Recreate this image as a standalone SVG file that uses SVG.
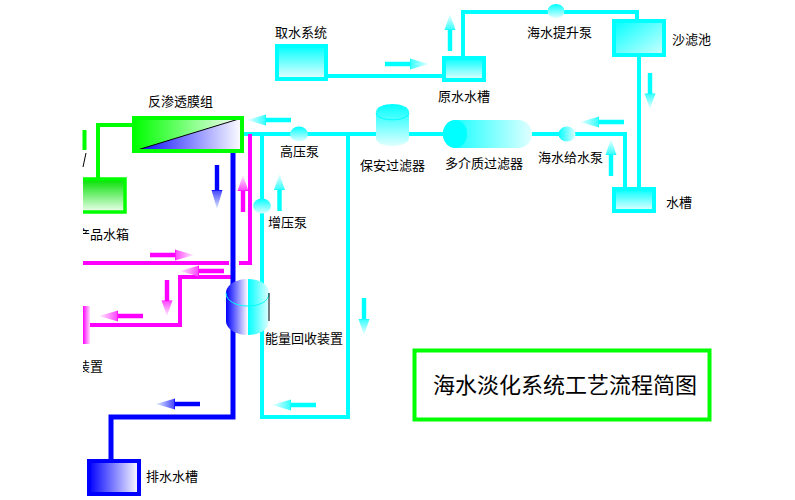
<svg xmlns="http://www.w3.org/2000/svg" width="795" height="500" viewBox="0 0 795 500">
<style>
text{font-family:"Noto Sans CJK SC","Liberation Sans",sans-serif;font-size:13px;fill:#000;font-weight:400}
.p{fill:none;stroke-width:4}
.pb{fill:none;stroke-width:5}
.c{stroke:#00ffff}.m{stroke:#ff00ff}.b{stroke:#0000ff}.g{stroke:#00ff00}
.s{stroke-width:4;fill:none}
.ac{fill:url(#aC)}.am{fill:url(#aM)}.ab{fill:url(#aB)}
</style>
<defs>
<linearGradient id="tk" x1="0" y1="0" x2="0" y2="1"><stop offset="0" stop-color="#00ffff"/><stop offset="1" stop-color="#e8ffff"/></linearGradient>
<linearGradient id="tk2" x1="0" y1="0" x2="1" y2="1"><stop offset="0" stop-color="#00ffff"/><stop offset="1" stop-color="#d0ffff"/></linearGradient>
<linearGradient id="gt" x1="0" y1="0" x2="0" y2="1"><stop offset="0" stop-color="#00e000"/><stop offset="1" stop-color="#f0fff0"/></linearGradient>
<linearGradient id="gm" x1="0" y1="0" x2="1" y2="0"><stop offset="0" stop-color="#00ff00"/><stop offset="1" stop-color="#ffffff"/></linearGradient>
<linearGradient id="bm" x1="0" y1="0" x2="1" y2="0"><stop offset="0" stop-color="#0000ff"/><stop offset="1" stop-color="#ffffff"/></linearGradient>
<linearGradient id="cy" x1="0" y1="0" x2="1" y2="0"><stop offset="0" stop-color="#00ffff"/><stop offset="1" stop-color="#e0ffff"/></linearGradient>
<linearGradient id="cyv" x1="0" y1="0" x2="0" y2="1"><stop offset="0" stop-color="#00ffff"/><stop offset="1" stop-color="#e0ffff"/></linearGradient>
<linearGradient id="mg" x1="0" y1="0" x2="1" y2="0"><stop offset="0" stop-color="#ff00ff"/><stop offset="1" stop-color="#ffe0ff"/></linearGradient>
<linearGradient id="aC" x1="0" y1="0" x2="1" y2="0"><stop offset=".57" stop-color="#00ffff"/><stop offset=".6" stop-color="#40ffff"/><stop offset="1" stop-color="#f0ffff"/></linearGradient>
<linearGradient id="aM" x1="0" y1="0" x2="1" y2="0"><stop offset=".57" stop-color="#ff00ff"/><stop offset=".6" stop-color="#ff50ff"/><stop offset="1" stop-color="#fff0ff"/></linearGradient>
<linearGradient id="aB" x1="0" y1="0" x2="1" y2="0"><stop offset=".57" stop-color="#0000ff"/><stop offset=".6" stop-color="#5050ff"/><stop offset="1" stop-color="#e0f0ff"/></linearGradient>
<clipPath id="left"><rect x="83" y="0" width="712" height="500"/></clipPath>
<path id="ar" d="M0,-2.200H25V-5.500L44,0L25,5.500V2.200H0Z"/>
</defs>
<rect width="795" height="500" fill="#fff"/>
<g id="connectors">
<path class="p c" d="M241,134H443M532,134H625V188M328,76H442M463,56V12H637V20M639,57V188M262,134V417H348V134"/>
<path class="p m" d="M83,263H229M239,263H250V134M234,277H180V325H88"/>
<path class="pb b" d="M233,151V417H111V460"/>
<path class="p g" d="M132,125H98V178M84.500,130V150"/>
<path d="M83,167L86,153" stroke="#000" fill="none"/>
<use href="#ar" class="ab" transform="translate(217,165) rotate(90)"/>
<use href="#ar" class="am" transform="translate(243,212) rotate(-90) scale(.84,1)"/>
<use href="#ar" class="ac" transform="translate(279.500,211) rotate(-90) scale(.84,1)"/>
<use href="#ar" class="ac" transform="translate(291,120) rotate(180)"/>
<use href="#ar" class="am" transform="translate(150,255)"/>
<use href="#ar" class="am" transform="translate(224,271) rotate(180)"/>
<use href="#ar" class="am" transform="translate(167,280) rotate(90) scale(.82,1)"/>
<use href="#ar" class="am" transform="translate(143,316) rotate(180)"/>
<use href="#ar" class="ab" transform="translate(200,404) rotate(180)"/>
<use href="#ar" class="ac" transform="translate(316,405) rotate(180)"/>
<use href="#ar" class="ac" transform="translate(364,298) rotate(90) scale(.84,1)"/>
<use href="#ar" class="ac" transform="translate(385,64)"/>
<use href="#ar" class="ac" transform="translate(450,51) rotate(-90) scale(.84,1)"/>
<use href="#ar" class="ac" transform="translate(650,73) rotate(90) scale(.82,1)"/>
<use href="#ar" class="ac" transform="translate(624,122) rotate(180)"/>
<use href="#ar" class="ac" transform="translate(611,176) rotate(-90) scale(.84,1)"/>
</g>
<g id="membrane">
<path d="M134,151L242,118H134Z" fill="url(#gm)"/>
<path d="M134,151L242,118V151Z" fill="url(#bm)"/>
<path d="M134,151L242,118" stroke="#000" fill="none"/>
<rect x="134" y="118" width="108" height="33" fill="none" stroke="#00ff00" stroke-width="4"/>
<text x="148" y="106">反渗透膜组</text>
</g>
<g id="product-tank">
<rect x="81" y="179" width="44" height="33" fill="url(#gt)" stroke="#00ff00" stroke-width="3.500" clip-path="url(#left)"/>
<text x="77" y="239" clip-path="url(#left)">产品水箱</text>
</g>
<g id="device">
<rect x="83" y="306" width="7" height="38" fill="url(#mg)"/>
<text x="77" y="371" clip-path="url(#left)">装置</text>
</g>
<g id="energy-recovery">
<path d="M248,279C236,279 226,285 226,293V321C226,329 236,335 248,335Z" fill="url(#bm)"/>
<path d="M248,279C260,279 269,285 269,293V321C269,329 260,335 248,335Z" fill="url(#cy)"/>
<path d="M226,293C226,301 236,306 248,306C260,306 269,301 269,293" fill="none" stroke="#00ffff"/>
<path d="M269,293V321" stroke="#000" fill="none"/>
<text x="265" y="343">能量回收装置</text>
</g>
<g id="drain-tank">
<rect x="89" y="461" width="50" height="33" fill="url(#bm)" stroke="#0000ff" stroke-width="4"/>
<text x="146" y="481">排水水槽</text>
</g>
<g id="high-pump"><ellipse cx="299" cy="134" rx="9" ry="7.500" fill="url(#cyv)"/><text x="280" y="156">高压泵</text></g>
<g id="boost-pump"><ellipse cx="262" cy="206" rx="9" ry="7.500" fill="url(#cyv)"/><text x="268" y="227">增压泵</text></g>
<g id="intake"><rect x="277" y="46" width="49" height="33" fill="url(#tk)"/><rect x="277" y="46" width="49" height="33" class="s c"/><text x="275" y="37">取水系统</text></g>
<g id="raw-tank"><rect x="444" y="58" width="40" height="22" fill="url(#tk)"/><rect x="444" y="58" width="40" height="22" class="s c"/><text x="438" y="101">原水水槽</text></g>
<g id="lift-pump"><ellipse cx="556" cy="11" rx="8.500" ry="7" fill="url(#cyv)"/><text x="527" y="37">海水提升泵</text></g>
<g id="sand-pool"><rect x="614" y="21" width="50" height="34" fill="url(#tk2)"/><rect x="614" y="21" width="50" height="34" class="s c"/><text x="672" y="44">沙滤池</text></g>
<g id="water-tank"><rect x="614" y="189" width="40" height="22" fill="url(#tk)"/><rect x="614" y="189" width="40" height="22" class="s c"/><text x="666" y="207">水槽</text></g>
<g id="feed-pump"><ellipse cx="567" cy="134" rx="8.500" ry="7.500" fill="url(#cy)"/><text x="538" y="162">海水给水泵</text></g>
<g id="multi-filter">
<rect x="443" y="120" width="89" height="28" rx="14" fill="url(#cy)"/>
<ellipse cx="455" cy="134" rx="12" ry="14" fill="#00ffff"/>
<text x="445" y="168">多介质过滤器</text>
</g>
<g id="security-filter">
<path d="M376,112C376,107 384,104 392.500,104C401,104 409,107 409,112V138C409,143 401,146 392.500,146C384,146 376,143 376,138Z" fill="url(#cyv)"/>
<path d="M376,113C378,122 407,122 409,113" fill="none" stroke="#00ffff"/>
<text x="360" y="170">保安过滤器</text>
</g>
<g id="title">
<rect x="414.500" y="350.500" width="295" height="69" fill="#fff" stroke="#00ff00" stroke-width="4"/>
<text x="433" y="393" style="font-size:22px">海水淡化系统工艺流程简图</text>
</g>
</svg>
